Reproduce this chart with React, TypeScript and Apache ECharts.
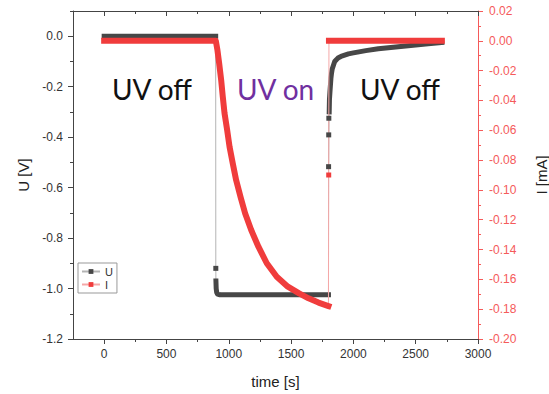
import React, { useEffect, useRef } from "react";
import * as echarts from "echarts";

// ---- data ----
// Voltage U [V] (left axis)
const uOffTime = [0, 300, 600, 895];
const uOffVolt = [0.0, 0.0, 0.0, 0.0];
const uDropTime = [896];
const uDropVolt = [-0.92];
const uOnTime = [897, 899, 903, 910, 930, 1000, 1200, 1400, 1600, 1800];
const uOnVolt = [-0.97, -1.0, -1.015, -1.022, -1.025, -1.025, -1.025, -1.025, -1.025, -1.025];
const uRiseTime = [1801, 1802, 1803];
const uRiseVolt = [-0.517, -0.391, -0.325];
const uRecTime = [1806, 1808, 1812, 1820, 1825, 1830, 1840, 1850, 1865, 1880, 1900, 1930, 1960, 2000, 2100, 2200, 2300, 2400, 2500, 2600, 2710];
const uRecVolt = [-0.3, -0.25, -0.22, -0.165, -0.145, -0.13, -0.115, -0.1, -0.092, -0.085, -0.08, -0.075, -0.07, -0.066, -0.057, -0.05, -0.045, -0.04, -0.035, -0.03, -0.025];

// Current I [mA] (right axis)
const iOffTime = [0, 300, 600, 896];
const iOffCurr = [0.0, 0.0, 0.0, 0.0];
const iOnTime = [909, 923, 939, 952, 966, 987, 1006, 1032, 1059, 1094, 1131, 1180, 1238, 1305, 1385, 1474, 1565, 1640, 1720, 1800];
const iOnCurr = [-0.0062, -0.0151, -0.0263, -0.0375, -0.0486, -0.0598, -0.071, -0.0822, -0.0934, -0.1046, -0.1157, -0.1269, -0.1381, -0.1492, -0.1582, -0.1649, -0.1694, -0.1727, -0.1756, -0.1779];
const iJumpTime = [1802];
const iJumpCurr = [-0.09];
const iRecTime = [1804, 2250, 2710];
const iRecCurr = [0.0, 0.0, 0.0];

// tick values
const xTicks = [0, 500, 1000, 1500, 2000, 2500, 3000];
const xMinorTicks = [250, 750, 1250, 1750, 2250, 2750];
const uTicks = [-1.2, -1.0, -0.8, -0.6, -0.4, -0.2, 0.0];
const uMinorTicks = [-1.1, -0.9, -0.7, -0.5, -0.3, -0.1, 0.1];
const iTicks = [-0.2, -0.18, -0.16, -0.14, -0.12, -0.1, -0.08, -0.06, -0.04, -0.02, 0.0, 0.02];
const iMinorTicks = [-0.19, -0.17, -0.15, -0.13, -0.11, -0.09, -0.07, -0.05, -0.03, -0.01, 0.01];

const zip = (t: number[], v: number[]) => t.map((x, i) => [x, v[i]]);
const GAP: any = ["-", "-"];

const U_COLOR = "#474747";
const I_COLOR = "#f03c3c";
const AX_RED = "#f55a5a";
const AX_DARK = "#444";
const FONT = "Liberation Sans, Arial, sans-serif";

export default function App() {
  const ref = useRef<HTMLDivElement>(null);
  useEffect(() => {
    document.body.style.margin = "0";
    const chart = echarts.init(ref.current!, null, { renderer: "svg" });

    const uAll = [
      ...zip(uOffTime, uOffVolt),
      ...zip(uDropTime, uDropVolt),
      ...zip(uOnTime, uOnVolt),
      ...zip(uRiseTime, uRiseVolt),
      ...zip(uRecTime, uRecVolt),
    ];
    const uBand = [...zip(uOffTime, uOffVolt), GAP, ...zip(uOnTime, uOnVolt), GAP, ...zip(uRecTime, uRecVolt)];
    const uMarks = [...zip(uDropTime, uDropVolt), GAP, ...zip(uRiseTime, uRiseVolt)];

    const iAll = [
      ...zip(iOffTime, iOffCurr),
      ...zip(iOnTime, iOnCurr),
      ...zip(iJumpTime, iJumpCurr),
      ...zip(iRecTime, iRecCurr),
    ];
    const iBand = [...zip(iOffTime, iOffCurr), ...zip(iOnTime, iOnCurr), GAP, ...zip(iRecTime, iRecCurr)];
    const iMarks = [...zip(iJumpTime, iJumpCurr)];

    const bandCommon = {
      type: "line",
      symbol: "none",
      connectNulls: false,
      silent: true,
    };

    const tickAxisX = (pos: string, vals: number[], len: number, inside: boolean, line: boolean) => ({
      type: "value",
      position: pos,
      min: -250,
      max: 3000,
      axisLine: { show: line, onZero: false, lineStyle: { color: AX_DARK, width: 1 } },
      axisTick: { show: true, customValues: vals, length: len, inside, lineStyle: { color: AX_DARK } },
      axisLabel: { show: false },
      splitLine: { show: false },
    });

    const option: any = {
      animation: false,
      grid: { left: 73, right: 71, top: 11, bottom: 55, containLabel: false, outerBoundsMode: "none" },
      legend: {
        data: ["U", "I"],
        orient: "vertical",
        left: 78,
        top: 263,
        itemWidth: 18,
        itemHeight: 6,
        itemGap: 2,
        padding: [3, 4, 3, 3],
        borderColor: "#999",
        borderWidth: 1,
        backgroundColor: "#fff",
        textStyle: { fontSize: 11, color: "#333", fontFamily: FONT },
      },
      xAxis: [
        {
          type: "value",
          position: "bottom",
          min: -250,
          max: 3000,
          axisLine: { show: true, onZero: false, lineStyle: { color: AX_DARK, width: 1 } },
          axisTick: { show: true, customValues: xTicks, length: 5, lineStyle: { color: AX_DARK } },
          axisLabel: {
            customValues: xTicks,
            margin: 9,
            fontSize: 12,
            color: "#333",
            fontFamily: FONT,
            formatter: (v: number) => String(v),
          },
          splitLine: { show: false },
          name: "time [s]",
          nameLocation: "middle",
          nameGap: 35,
          nameTextStyle: { fontSize: 15, color: "#222", fontFamily: FONT },
        },
        tickAxisX("bottom", xMinorTicks, 3, false, false),
        tickAxisX("top", xTicks, 5, true, true),
        tickAxisX("top", xMinorTicks, 3, true, false),
      ],
      yAxis: [
        {
          type: "value",
          position: "left",
          min: -1.2,
          max: 0.1,
          axisLine: { show: true, onZero: false, lineStyle: { color: AX_DARK, width: 1 } },
          axisTick: { show: true, customValues: uTicks, length: 5, lineStyle: { color: AX_DARK } },
          axisLabel: {
            customValues: uTicks,
            margin: 10,
            fontSize: 12,
            color: "#333",
            fontFamily: FONT,
            formatter: (v: number) => v.toFixed(1),
          },
          splitLine: { show: false },
          name: "U [V]",
          nameLocation: "middle",
          nameGap: 41,
          nameRotate: 90,
          nameTextStyle: { fontSize: 15, color: "#222", fontFamily: FONT },
        },
        {
          type: "value",
          position: "right",
          min: -0.2,
          max: 0.02,
          axisLine: { show: true, onZero: false, lineStyle: { color: AX_RED, width: 1 } },
          axisTick: { show: true, customValues: iTicks, length: 5, lineStyle: { color: AX_RED } },
          axisLabel: {
            customValues: iTicks,
            margin: 11,
            fontSize: 12,
            color: AX_RED,
            fontFamily: FONT,
            formatter: (v: number) => v.toFixed(2),
          },
          splitLine: { show: false },
          name: "I [mA]",
          nameLocation: "middle",
          nameGap: 56,
          nameRotate: 90,
          nameTextStyle: { fontSize: 15, color: "#222", fontFamily: FONT },
        },
        {
          type: "value",
          position: "left",
          min: -1.2,
          max: 0.1,
          axisLine: { show: false, onZero: false },
          axisTick: { show: true, customValues: uMinorTicks, length: 3, lineStyle: { color: AX_DARK } },
          axisLabel: { show: false },
          splitLine: { show: false },
        },
        {
          type: "value",
          position: "right",
          min: -0.2,
          max: 0.02,
          axisLine: { show: false, onZero: false },
          axisTick: { show: true, customValues: iMinorTicks, length: 3, lineStyle: { color: AX_RED } },
          axisLabel: { show: false },
          splitLine: { show: false },
        },
      ],
      series: [
        {
          name: "U_thin",
          type: "line",
          yAxisIndex: 0,
          data: uAll,
          symbol: "none",
          silent: true,
          lineStyle: { width: 1, color: "#b4b4b4" },
        },
        {
          ...bandCommon,
          name: "U_band",
          yAxisIndex: 0,
          data: uBand,
          lineStyle: { width: 5, color: U_COLOR, cap: "square", join: "round" },
        },
        {
          name: "U",
          type: "line",
          yAxisIndex: 0,
          data: uMarks,
          connectNulls: false,
          symbol: "rect",
          symbolSize: 5,
          showAllSymbol: true,
          itemStyle: { color: U_COLOR },
          lineStyle: { width: 1, color: "#b4b4b4" },
        },
        {
          name: "I_thin",
          type: "line",
          yAxisIndex: 1,
          data: iAll,
          symbol: "none",
          silent: true,
          lineStyle: { width: 1, color: "#f5a8a8" },
        },
        {
          ...bandCommon,
          name: "I_band",
          yAxisIndex: 1,
          data: iBand,
          lineStyle: { width: 6, color: I_COLOR, cap: "square", join: "round" },
        },
        {
          name: "I",
          type: "line",
          yAxisIndex: 1,
          data: iMarks,
          connectNulls: false,
          symbol: "rect",
          symbolSize: 5,
          showAllSymbol: true,
          itemStyle: { color: I_COLOR },
          lineStyle: { width: 1, color: "#f5a8a8" },
        },
      ],
      graphic: [
        {
          type: "text",
          x: 112,
          y: 89,
          style: { text: "UV off", font: "28px Lato, sans-serif", fill: "#111", verticalAlign: "middle" },
        },
        {
          type: "text",
          x: 237,
          y: 89,
          style: { text: "UV on", font: "28px Lato, sans-serif", fill: "#7030a0", verticalAlign: "middle" },
        },
        {
          type: "text",
          x: 360,
          y: 89,
          style: { text: "UV off", font: "28px Lato, sans-serif", fill: "#111", verticalAlign: "middle" },
        },
      ],
    };
    chart.setOption(option);
    return () => chart.dispose();
  }, []);
  return <div ref={ref} style={{ width: 549, height: 394 }} />;
}
